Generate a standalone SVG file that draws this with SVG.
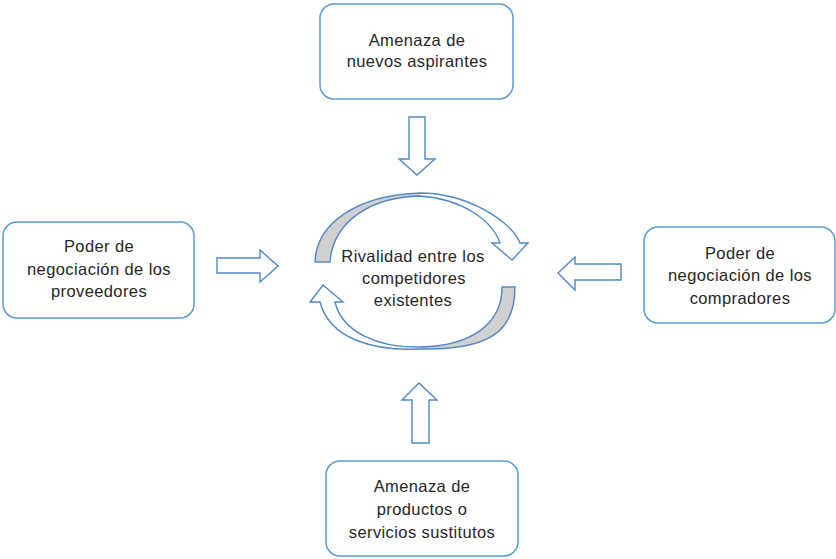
<svg xmlns="http://www.w3.org/2000/svg" width="836" height="559" viewBox="0 0 836 559">
<style>
.box{fill:#fff;stroke:#5b9bd5;stroke-width:1.5}
.arr{fill:#fff;stroke:#4f88c6;stroke-width:1.4;stroke-linejoin:miter}
.t{font-family:"Liberation Sans",Arial,sans-serif;font-size:16.5px;letter-spacing:0.4px;fill:#262626;text-anchor:middle}
</style>
<defs>
<linearGradient id="gTop" gradientUnits="userSpaceOnUse" x1="300" y1="0" x2="540" y2="0">
<stop offset="0.5" stop-color="#d0d0d0"/><stop offset="0.5" stop-color="#ffffff"/>
</linearGradient>
<linearGradient id="gBot" gradientUnits="userSpaceOnUse" x1="300" y1="0" x2="540" y2="0">
<stop offset="0.51" stop-color="#ffffff"/><stop offset="0.51" stop-color="#d0d0d0"/>
</linearGradient>
</defs>
<rect width="836" height="559" fill="#fff"/>
<g id="connectors">
<path class="arr" d="M409,117 L425,117 L425,159 L435,159 L417,175 L399,159 L409,159 Z"/>
<path class="arr" d="M217,258 L260,258 L260,250 L278,266 L260,282 L260,273 L217,273 Z"/>
<path class="arr" d="M621,264 L575,264 L575,257 L558,273 L575,290 L575,280 L621,280 Z"/>
<path class="arr" d="M412,443 L412,400 L402,400 L419,383 L437,400 L429,400 L429,443 Z"/>
</g>
<g id="rivalidad">
<path class="arr" style="fill:url(#gTop)" d="M315,262 C316,225 355,195 420,193 C468,193 512,222 520,243 L528,243 L512,260 L492,243 L500,243 C492,220 462,199 420,196 C370,197 333,222 330,262 Z"/>
<path class="arr" style="fill:url(#gBot)" d="M515,287 C515,333 488,350 420,349 C375,351 330,340 320,302 L310,302 L323,285 L343,302 L335,302 C342,332 378,348 420,347 C470,346 502,325 502,287 Z"/>
<text class="t" x="413" y="262">Rivalidad entre los</text>
<text class="t" x="414" y="284">competidores</text>
<text class="t" x="413" y="306">existentes</text>
</g>
<g id="nuevos">
<rect class="box" x="320" y="4" width="193" height="95" rx="14"/>
<text class="t" x="417" y="46">Amenaza de</text>
<text class="t" x="417" y="67">nuevos aspirantes</text>
</g>
<g id="proveedores">
<rect class="box" x="3" y="222" width="191" height="96" rx="14"/>
<text class="t" x="99" y="252">Poder de</text>
<text class="t" x="99" y="275">negociación de los</text>
<text class="t" x="99" y="297">proveedores</text>
</g>
<g id="compradores">
<rect class="box" x="644" y="227" width="191" height="96" rx="14"/>
<text class="t" x="740" y="259">Poder de</text>
<text class="t" x="740" y="281">negociación de los</text>
<text class="t" x="740" y="304">compradores</text>
</g>
<g id="sustitutos">
<rect class="box" x="326" y="461" width="192" height="95" rx="14"/>
<text class="t" x="422" y="492">Amenaza de</text>
<text class="t" x="422" y="515">productos o</text>
<text class="t" x="422" y="538">servicios sustitutos</text>
</g>
</svg>
